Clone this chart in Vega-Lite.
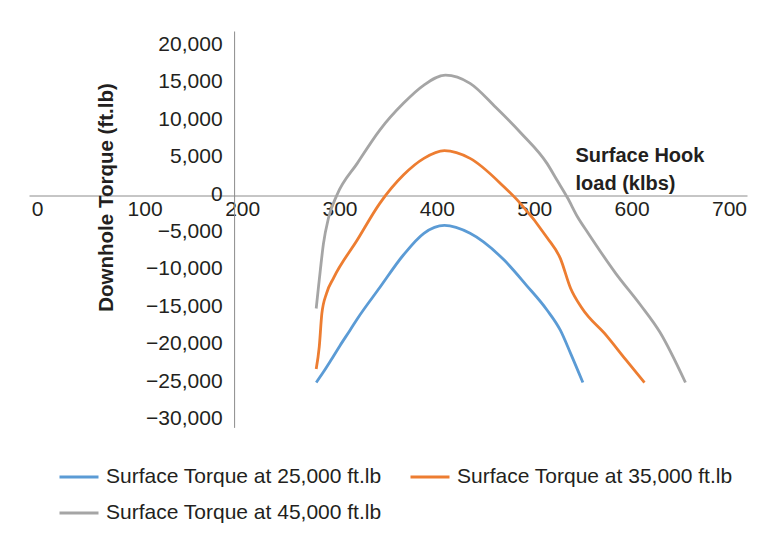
{
  "$schema": "https://vega.github.io/schema/vega-lite/v6.json",
  "width": 718,
  "height": 396.4,
  "autosize": "none",
  "padding": {"left": 29, "top": 31, "right": 26, "bottom": 115.6},
  "background": "white",
  "config": {
    "view": {"stroke": null},
    "font": "Liberation Sans",
    "axis": {"grid": false, "ticks": false, "tickSize": 0, "domainColor": "#8c8c8c", "domainWidth": 1, "labelColor": "#231f20", "titleColor": "#231f20", "labelFont": "Liberation Sans", "titleFont": "Liberation Sans", "labelFontSize": 21, "labelFontWeight": "normal"}
  },
  "data": {
    "values": [
      {"series": "Surface Torque at 25,000 ft.lb", "x": 280, "y": -25000},
      {"series": "Surface Torque at 25,000 ft.lb", "x": 287, "y": -23600},
      {"series": "Surface Torque at 25,000 ft.lb", "x": 294, "y": -22100},
      {"series": "Surface Torque at 25,000 ft.lb", "x": 303, "y": -20100},
      {"series": "Surface Torque at 25,000 ft.lb", "x": 313, "y": -18000},
      {"series": "Surface Torque at 25,000 ft.lb", "x": 320, "y": -16500},
      {"series": "Surface Torque at 25,000 ft.lb", "x": 342, "y": -12300},
      {"series": "Surface Torque at 25,000 ft.lb", "x": 365, "y": -7950},
      {"series": "Surface Torque at 25,000 ft.lb", "x": 385, "y": -5050},
      {"series": "Surface Torque at 25,000 ft.lb", "x": 405, "y": -4000},
      {"series": "Surface Torque at 25,000 ft.lb", "x": 430, "y": -5050},
      {"series": "Surface Torque at 25,000 ft.lb", "x": 463, "y": -8600},
      {"series": "Surface Torque at 25,000 ft.lb", "x": 485, "y": -12000},
      {"series": "Surface Torque at 25,000 ft.lb", "x": 505, "y": -15300},
      {"series": "Surface Torque at 25,000 ft.lb", "x": 518, "y": -18000},
      {"series": "Surface Torque at 25,000 ft.lb", "x": 528, "y": -21100},
      {"series": "Surface Torque at 25,000 ft.lb", "x": 540, "y": -25000},
      {"series": "Surface Torque at 35,000 ft.lb", "x": 280, "y": -23200},
      {"series": "Surface Torque at 35,000 ft.lb", "x": 283, "y": -20200},
      {"series": "Surface Torque at 35,000 ft.lb", "x": 285.5, "y": -15800},
      {"series": "Surface Torque at 35,000 ft.lb", "x": 290, "y": -13100},
      {"series": "Surface Torque at 35,000 ft.lb", "x": 297, "y": -11000},
      {"series": "Surface Torque at 35,000 ft.lb", "x": 320, "y": -5950},
      {"series": "Surface Torque at 35,000 ft.lb", "x": 342, "y": -1040},
      {"series": "Surface Torque at 35,000 ft.lb", "x": 365, "y": 2740},
      {"series": "Surface Torque at 35,000 ft.lb", "x": 385, "y": 4970},
      {"series": "Surface Torque at 35,000 ft.lb", "x": 405, "y": 6000},
      {"series": "Surface Torque at 35,000 ft.lb", "x": 430, "y": 4970},
      {"series": "Surface Torque at 35,000 ft.lb", "x": 463, "y": 1180},
      {"series": "Surface Torque at 35,000 ft.lb", "x": 479, "y": -1040},
      {"series": "Surface Torque at 35,000 ft.lb", "x": 505, "y": -5600},
      {"series": "Surface Torque at 35,000 ft.lb", "x": 518, "y": -8400},
      {"series": "Surface Torque at 35,000 ft.lb", "x": 528, "y": -12400},
      {"series": "Surface Torque at 35,000 ft.lb", "x": 539, "y": -15040},
      {"series": "Surface Torque at 35,000 ft.lb", "x": 563, "y": -18730},
      {"series": "Surface Torque at 35,000 ft.lb", "x": 582, "y": -21980},
      {"series": "Surface Torque at 35,000 ft.lb", "x": 600, "y": -25000},
      {"series": "Surface Torque at 45,000 ft.lb", "x": 280, "y": -15100},
      {"series": "Surface Torque at 45,000 ft.lb", "x": 282, "y": -12500},
      {"series": "Surface Torque at 45,000 ft.lb", "x": 284, "y": -10000},
      {"series": "Surface Torque at 45,000 ft.lb", "x": 287, "y": -6500},
      {"series": "Surface Torque at 45,000 ft.lb", "x": 292, "y": -3000},
      {"series": "Surface Torque at 45,000 ft.lb", "x": 300, "y": 0},
      {"series": "Surface Torque at 45,000 ft.lb", "x": 320, "y": 4300},
      {"series": "Surface Torque at 45,000 ft.lb", "x": 342, "y": 8760},
      {"series": "Surface Torque at 45,000 ft.lb", "x": 365, "y": 12330},
      {"series": "Surface Torque at 45,000 ft.lb", "x": 385, "y": 14770},
      {"series": "Surface Torque at 45,000 ft.lb", "x": 406, "y": 16100},
      {"series": "Surface Torque at 45,000 ft.lb", "x": 430, "y": 15000},
      {"series": "Surface Torque at 45,000 ft.lb", "x": 455, "y": 11800},
      {"series": "Surface Torque at 45,000 ft.lb", "x": 480, "y": 8300},
      {"series": "Surface Torque at 45,000 ft.lb", "x": 505, "y": 4300},
      {"series": "Surface Torque at 45,000 ft.lb", "x": 515, "y": 2000},
      {"series": "Surface Torque at 45,000 ft.lb", "x": 525, "y": -300},
      {"series": "Surface Torque at 45,000 ft.lb", "x": 535, "y": -2900},
      {"series": "Surface Torque at 45,000 ft.lb", "x": 545, "y": -5000},
      {"series": "Surface Torque at 45,000 ft.lb", "x": 572, "y": -10400},
      {"series": "Surface Torque at 45,000 ft.lb", "x": 596, "y": -14600},
      {"series": "Surface Torque at 45,000 ft.lb", "x": 615, "y": -18250},
      {"series": "Surface Torque at 45,000 ft.lb", "x": 640, "y": -25000}
    ]
  },
  "mark": {"type": "line", "interpolate": "monotone", "strokeWidth": 2.8, "clip": false},
  "encoding": {
    "x": {
      "field": "x", "type": "quantitative",
      "scale": {"domain": [0, 700], "nice": false, "zero": false},
      "axis": {
        "orient": "bottom", "offset": -231.9,
        "values": [0, 100, 200, 300, 400, 500, 600, 700], "format": "d",
        "labelPadding": 3, "labelFlush": false,
        "labelOffset": {"expr": "datum.value == 100 ? 13 : (datum.value <= 200 ? 8 : 8 - (datum.value - 200) * 0.052)"},
        "title": ["Surface Hook", "load (klbs)"],
        "titleX": 546, "titleY": -34, "titleAlign": "left", "titleBaseline": "alphabetic",
        "titleLineHeight": 28, "titleFontSize": 20, "titleFontWeight": "bold"
      }
    },
    "y": {
      "field": "y", "type": "quantitative",
      "scale": {"domain": [-31000, 22000], "nice": false, "zero": false},
      "axis": {
        "orient": "left", "offset": -205.1,
        "values": [-30000, -25000, -20000, -15000, -10000, -5000, 0, 5000, 10000, 15000, 20000], "format": ",.0f",
        "labelPadding": 12, "labelOffset": -1.5, "labelFlush": false,
        "title": "Downhole Torque (ft.lb)",
        "titleX": -128, "titleY": 166, "titleAlign": "center", "titleBaseline": "middle", "titleAngle": -90,
        "titleFontSize": 20.5, "titleFontWeight": "bold"
      }
    },
    "color": {
      "field": "series", "type": "nominal",
      "scale": {
        "domain": ["Surface Torque at 25,000 ft.lb", "Surface Torque at 35,000 ft.lb", "Surface Torque at 45,000 ft.lb"],
        "range": ["#5B9BD5", "#ED7D31", "#A5A5A5"]
      },
      "legend": {
        "title": null, "orient": "none", "legendX": 29, "legendY": 425, "columns": 2, "direction": "horizontal",
        "symbolType": "stroke", "symbolSize": 1521, "symbolStrokeWidth": 3,
        "labelFontSize": 21, "labelFont": "Liberation Sans", "labelColor": "#231f20", "labelLimit": 400,
        "labelOffset": 6, "columnPadding": 22, "rowPadding": 5, "padding": 0
      }
    }
  }
}
